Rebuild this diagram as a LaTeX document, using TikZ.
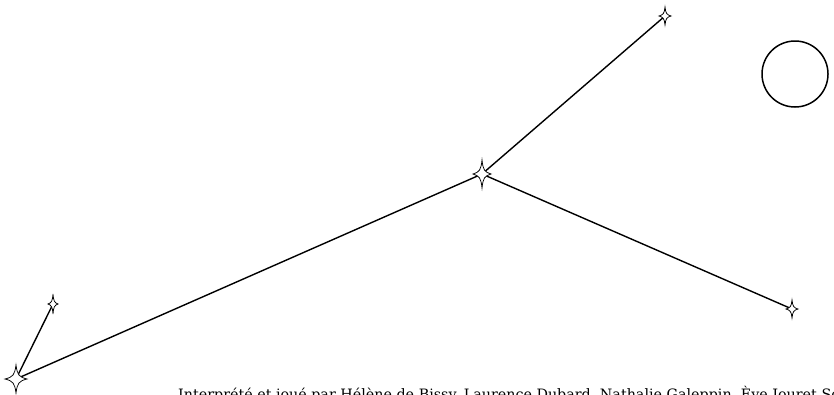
\documentclass[tikz,border=0pt]{standalone}
\usepackage{fontspec}
\newfontfamily\capfont{DejaVu Serif}
\tikzset{
  link/.style={line width=1.4pt},
  pics/spark/.style 2 args={code={
    \draw[fill=white, line width=0.75pt, line join=miter]
      (0,{-#2}) .. controls ({0.12*#1},{-0.28*#2}) and ({0.28*#1},{-0.14*#2}) .. (#1,0)
      .. controls ({0.28*#1},{0.14*#2}) and ({0.12*#1},{0.28*#2}) .. (0,#2)
      .. controls ({-0.12*#1},{0.28*#2}) and ({-0.28*#1},{0.14*#2}) .. ({-#1},0)
      .. controls ({-0.28*#1},{-0.14*#2}) and ({-0.12*#1},{-0.28*#2}) .. cycle;
  }},
  caption/.style={anchor=base west, inner sep=0pt, font=\capfont\fontsize{14.3}{17}\selectfont}
}
\begin{document}
\begin{tikzpicture}[x=1pt,y=-1pt]
\useasboundingbox (0,0) rectangle (834,394);
\coordinate (A) at (16,379);
\coordinate (B) at (53,304);
\coordinate (C) at (482,174);
\coordinate (D) at (665,16);
\coordinate (E) at (792,309);
\draw[link] (A) -- (B);
\draw[link] (A) -- (C);
\draw[link] (C) -- (D);
\draw[link] (C) -- (E);
\pic at (A) {spark={11}{14}};
\pic at (B) {spark={5}{10}};
\pic at (C) {spark={9}{14}};
\pic at (D) {spark={6}{9}};
\pic at (E) {spark={6}{9}};
\node[draw, circle, line width=1.5pt, minimum size=66pt, inner sep=0pt] (moon) at (795,74) {};
\node[caption] (credits) at (178,399) {Interprété et joué par Hélène de Bissy, Laurence Dubard, Nathalie Galeppin, Ève Jouret Sorel};
\end{tikzpicture}
\end{document}
